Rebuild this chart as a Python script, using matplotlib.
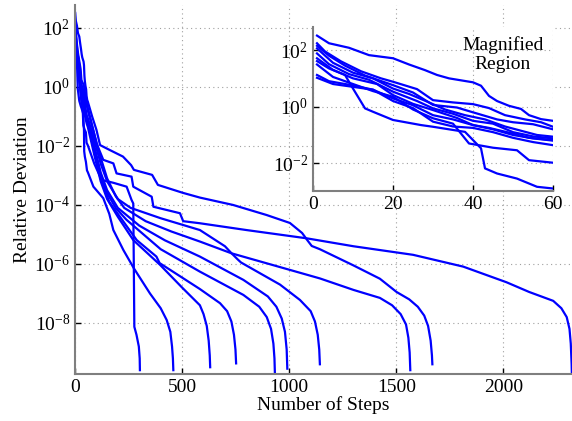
import matplotlib
matplotlib.use("Agg")
import matplotlib.pyplot as plt
import numpy as np
from matplotlib.ticker import FixedLocator, NullLocator, LogFormatterMathtext

# steps and log10(relative deviation), one pair per run
run1_steps = [1, 5, 10, 15, 20, 25, 30, 35, 39, 45, 51, 54, 60, 90, 124, 180, 241, 264, 272, 277, 287, 298, 302, 303]
run1_exp = [1.49, 1.05, 0.8, 0.55, 0.35, -0.1, -0.41, -0.6, -1.3, -1.45, -1.54, -1.89, -1.98, -2.6, -3.15, -3.25,
            -3.38, -3.83, -3.95, -8.13, -8.4, -8.8, -9.2, -9.6]

run2_steps = [1, 4, 8, 10, 13, 15, 20, 27, 30, 38, 42, 43, 46, 51, 56, 60, 86, 132, 160, 179, 226, 275, 350, 400,
              428, 445, 453, 457, 459]
run2_exp = [1.61, 1.35, 1.12, 0.64, -0.06, -0.18, -0.47, -0.65, -0.71, -0.89, -1.47, -2.18, -2.36, -2.54, -2.83,
            -2.89, -3.38, -3.77, -4.3, -4.85, -5.53, -6.15, -7.0, -7.5, -7.9, -8.3, -8.8, -9.2, -9.6]

run3_steps = [1, 5, 10, 15, 20, 25, 30, 35, 40, 45, 50, 55, 60, 90, 120, 150, 200, 272, 397, 500, 583, 600, 615,
              624, 629, 631]
run3_exp = [1.02, 0.8, 0.7, 0.6, 0.2, -0.05, -0.53, -0.7, -0.75, -0.9, -1.1, -1.25, -1.36, -2.3, -3.2, -3.8, -4.4,
            -5.19, -6.03, -6.8, -7.4, -7.7, -8.1, -8.6, -9.1, -9.5]

run4_steps = [1, 4, 10, 15, 20, 25, 30, 35, 40, 45, 50, 55, 60, 90, 120, 160, 200, 288, 380, 395, 583, 677, 710,
              730, 742, 749, 752]
run4_exp = [1.12, 0.9, 0.75, 0.6, 0.29, 0.05, -0.3, -0.45, -0.65, -0.8, -1.0, -1.12, -1.2, -2.2, -3.1, -3.9, -4.3,
            -5.19, -5.75, -5.97, -6.85, -7.33, -7.6, -7.95, -8.4, -8.9, -9.37]

run5_steps = [1, 5, 10, 16, 20, 25, 30, 36, 40, 44, 50, 54, 60, 90, 120, 150, 190, 240, 400, 583, 786, 860, 895,
              915, 926, 931, 933]
run5_exp = [1.71, 1.3, 1.0, 0.8, 0.41, 0.1, -0.12, -0.4, -0.65, -0.75, -0.95, -1.1, -1.18, -2.1, -3.0, -3.6, -4.1,
            -4.5, -5.5, -6.26, -7.05, -7.45, -7.8, -8.2, -8.7, -9.2, -9.7]

run6_steps = [1, 4, 9, 14, 20, 26, 30, 35, 40, 45, 50, 55, 60, 90, 120, 150, 200, 300, 420, 583, 786, 900, 940,
              965, 980, 988, 991]
run6_exp = [1.88, 1.5, 1.15, 0.95, 0.53, 0.2, -0.06, -0.25, -0.5, -0.6, -0.9, -1.05, -1.12, -2.0, -2.9, -3.5, -4.1,
            -4.7, -5.2, -5.75, -6.54, -7.1, -7.45, -7.85, -8.3, -8.9, -9.55]

run7_steps = [1, 5, 10, 15, 20, 24, 29, 33, 38, 43, 48, 52, 56, 60, 90, 120, 150, 200, 260, 400, 583, 700, 731,
              760, 775, 957, 1050, 1100, 1120, 1133, 1140, 1143]
run7_exp = [2.06, 1.55, 1.2, 1.0, 0.64, 0.45, 0.15, -0.1, -0.3, -0.45, -0.7, -0.85, -1.0, -1.06, -1.8, -2.6, -3.2,
            -3.8, -4.1, -4.45, -4.85, -5.4, -5.64, -5.85, -5.95, -6.7, -7.22, -7.6, -7.95, -8.4, -8.9, -9.4]

run8_steps = [1, 4, 8, 13, 20, 25, 30, 36, 40, 46, 50, 55, 60, 90, 120, 150, 190, 230, 330, 450, 583, 731, 1143,
              1300, 1423, 1480, 1520, 1545, 1556, 1562, 1565]
run8_exp = [2.15, 1.8, 1.45, 1.1, 0.76, 0.5, 0.06, -0.03, -0.2, -0.45, -0.55, -0.62, -0.8, -1.6, -2.4, -3.1, -3.7,
            -4.1, -4.55, -4.9, -5.24, -5.64, -6.49, -6.88, -7.15, -7.4, -7.7, -8.05, -8.5, -9.0, -9.6]

run9_steps = [1, 4, 9, 14, 20, 24, 28, 31, 34, 40, 42, 44, 46, 49, 52, 54, 57, 60, 80, 100, 117, 163, 224, 262,
              275, 360, 387, 504, 583, 738, 894, 1003, 1060, 1085, 1105, 1143, 1300, 1423, 1501, 1560, 1600, 1630,
              1648, 1660, 1666, 1668]
run9_exp = [2.51, 2.24, 2.08, 1.82, 1.71, 1.49, 1.29, 1.12, 1.0, 0.86, 0.74, 0.38, 0.2, 0.03, -0.08, -0.3, -0.44,
            -0.5, -1.0, -1.45, -1.97, -2.14, -2.36, -2.65, -2.81, -2.98, -3.32, -3.59, -3.75, -4.0, -4.34, -4.61,
            -4.95, -5.2, -5.39, -5.5, -6.05, -6.5, -6.95, -7.2, -7.45, -7.75, -8.1, -8.6, -9.1, -9.4]

run10_steps = [1, 3, 7, 12, 17, 20, 26, 30, 35, 40, 44, 48, 53, 57, 60, 80, 100, 132, 179, 194, 264, 272, 358,
               366, 490, 505, 583, 800, 1081, 1300, 1578, 1812, 2014, 2120, 2232, 2270, 2295, 2308, 2314, 2318, 2319]
run10_exp = [2.24, 1.95, 1.6, 1.25, 1.0, 0.88, 0.62, 0.23, 0.15, 0.09, -0.05, -0.3, -0.45, -0.55, -0.71, -1.3,
             -1.9, -2.47, -2.59, -2.93, -3.04, -3.38, -3.72, -4.06, -4.28, -4.55, -4.62, -4.85, -5.13, -5.4, -5.69,
             -6.09, -6.62, -6.95, -7.25, -7.5, -7.8, -8.2, -8.7, -9.4, -9.7]

runs = [
    (run1_steps, run1_exp), (run2_steps, run2_exp), (run3_steps, run3_exp), (run4_steps, run4_exp),
    (run5_steps, run5_exp), (run6_steps, run6_exp), (run7_steps, run7_exp), (run8_steps, run8_exp),
    (run9_steps, run9_exp), (run10_steps, run10_exp),
]

plt.rcParams["font.family"] = ["Liberation Serif", "DejaVu Serif"]
plt.rcParams["mathtext.fontset"] = "custom"
plt.rcParams["mathtext.rm"] = "Liberation Serif"
plt.rcParams["mathtext.it"] = "Liberation Serif:italic"
plt.rcParams["mathtext.bf"] = "Liberation Serif:bold"
plt.rcParams["axes.unicode_minus"] = False

BLUE = "#0000ff"
GREY = "#7f7f7f"


def style(ax):
    for sp in ["top", "right"]:
        ax.spines[sp].set_visible(False)
    for sp in ["left", "bottom"]:
        ax.spines[sp].set_color(GREY)
        ax.spines[sp].set_linewidth(1.5)
    ax.tick_params(direction="in", length=4, width=1, color="black", labelsize=14, labelcolor="black")
    ax.grid(True, linestyle=(0, (1, 3)), color="#a0a0a0", linewidth=0.8)
    ax.set_axisbelow(True)
    ax.yaxis.set_minor_locator(NullLocator())
    ax.yaxis.set_major_formatter(LogFormatterMathtext())


fig = plt.figure(figsize=(5.72, 4.21), dpi=100)

# main plot
ax = fig.add_axes([0.1311, 0.1116, 0.869, 0.8765])
for s, e in runs:
    ax.semilogy(s, 10.0 ** np.array(e), color=BLUE, linewidth=1.6)
ax.set_xlim(0, 2320)
ax.set_ylim(1.86e-10, 600)
ax.set_xticks([0, 500, 1000, 1500, 2000])
ax.yaxis.set_major_locator(FixedLocator([1e-8, 1e-6, 1e-4, 1e-2, 1e0, 1e2]))
style(ax)
ax.set_xlabel("Number of Steps", fontsize=14, labelpad=0)
ax.set_ylabel("Relative Deviation", fontsize=14, labelpad=2)

# inset
axin = fig.add_axes([0.5472, 0.5463, 0.4196, 0.3895])
axin.set_facecolor("white")
for s, e in runs:
    axin.semilogy(s, 10.0 ** np.array(e), color=BLUE, linewidth=1.6)
axin.set_xlim(0, 60)
axin.set_ylim(1.05e-3, 650)
axin.set_xticks([0, 20, 40, 60])
axin.yaxis.set_major_locator(FixedLocator([1e-2, 1e0, 1e2]))
style(axin)
axin.text(0.79, 0.83, "Magnified\nRegion", transform=axin.transAxes, ha="center", va="center",
          fontsize=14, linespacing=1.15)

fig.savefig("out.png", dpi=100)
plt.close(fig)
